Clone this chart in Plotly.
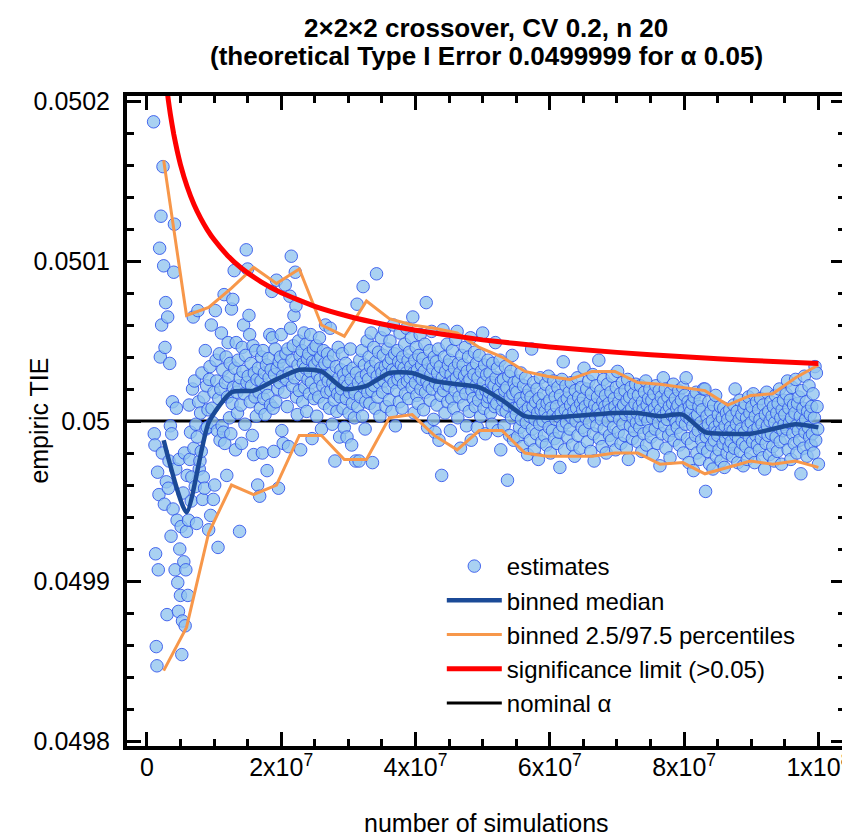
import numpy as np
import plotly.graph_objects as go

# ---------------- data ----------------
ALPHA = 0.05

# number of simulations of the estimates (1e6 ... 1e8, step 1e5)
n_sims = np.arange(1_000_000, 100_000_001, 100_000)

# empiric TIE of each estimate, given as (TIE - 0.05) in units of 1e-6
tie_offset_ppm = [
    187, -8, -15, -83, -141, -153, -32, -93, -46, 108, 40, 128, 60, -20, 159, 97, -52, 46, 74, -38,
    -121, 65, -42, -25, 36, -3, -72, -8, 12, -55, 93, 123, -93, -30, 8, -62, -101, -119, -24, -80,
    -109, -66, -146, -125, -45, -88, -20, -128, -93, -69, -34, -109, -62, 10, -24, -7, -50, -35, 20, 65,
    -17, 25, -41, -2, -64, -10, 69, 12, -30, -25, 5, -19, 30, -49, -35, 15, -42, 44, -5, 22,
    -4, 7, -68, 26, 34, -59, 60, 8, -1, -49, 18, -40, 69, 38, 25, -6, -79, 14, 42, -12,
    20, 55, -3, 32, -7, 79, -14, 24, 40, -34, 15, 49, 28, 2, 36, -8, 70, 11, 76, 21,
    94, 33, -18, 49, 18, 5, 38, 22, -69, 27, 10, -14, 46, 31, 60, 17, -2, 41, 107, 24,
    95, 28, 66, 54, 12, 36, 22, -9, 47, -21, 30, 15, 44, 3, 26, -40, 33, 18, -47, 8,
    25, 40, -20, 44, 14, 30, 4, 21, 35, -31, 16, 39, 27, 54, 10, 32, 81, 52, 8, -19,
    29, 45, 12, 88, 33, 20, -42, 37, 24, 40, 54, -6, 28, -14, 35, 18, 85, 42, 26, 9,
    45, -16, 30, 78, 58, 103, 38, 22, 47, 66, 27, 93, 72, 15, 4, 35, 50, 19, 41, -18,
    29, 44, 12, 36, 55, 21, 33, 48, 6, 39, 26, 42, 17, 31, 54, 24, -11, 37, 45, 14,
    35, 20, 47, 3, 29, 38, 15, 52, 26, 40, -5, 33, 22, 44, 11, 36, 60, 28, 18, 42,
    25, 37, 8, 58, 19, 30, -2, 24, 41, 13, -25, 21, 34, 6, 17, 46, 27, -10, 15, 32,
    20, 42, 8, 29, -4, 25, 36, 14, -10, 22, 31, 5, 18, 45, 26, -15, 11, 33, 20, 2,
    17, -25, 30, 73, 9, 24, -25, 38, 15, 27, 44, 3, 84, 21, 35, -5, 12, 29, 50, 18,
    26, 40, 11, 34, 55, 19, -26, 31, 46, 22, 8, 37, 92, 28, 15, 43, 24, 3, 33, 52,
    30, 18, 41, 25, 57, 34, 9, 29, 45, 21, 36, 13, 50, 27, 39, 6, 32, 60, 24, 42,
    -3, 31, 19, 44, 26, 37, 12, 55, 28, 35, 8, 40, 23, 33, 48, 17, 30, 58, 25, 38,
    14, 43, 27, 34, 52, 21, 65, 30, 5, 38, 24, 46, 16, 32, 11, 41, 28, 54, 20, 35,
    26, 39, 7, 31, 48, 18, 74, 25, -4, 36, 22, 44, 13, 29, 56, 20, 33, 1, 40, -7,
    24, 37, 10, 30, 45, -12, 21, 34, 16, -34, 27, 57, 19, 40, 5, 31, 23, 48, 12, 35,
    22, 38, -6, 29, 14, 44, 25, 8, 33, 19, 51, 27, 56, 2, 36, 15, 30, -17, 23, 41,
    21, 35, 10, 28, 46, 17, -3, 31, 24, 40, 6, 26, 52, -12, 19, 33, 14, 29, 43, 9,
    22, 36, -4, 27, 13, 41, 20, 3, 31, 17, 55, 24, 8, 35, -8, 19, 29, 12, 38, 15,
    18, 30, 5, 24, -2, 36, 14, 22, 9, 49, 27, 11, 33, -6, 20, 16, 38, -18, 25, 7,
    13, 26, -3, 19, 34, 6, 21, -37, 10, 28, -9, 15, 31, 2, 41, 17, -12, 24, 8, 20,
    4, 18, -10, 25, 9, -4, 14, 30, 1, -16, 11, 22, -7, 6, 27, -1, 16, -21, 8, 19,
    3, -12, 15, 45, -5, 9, 24, -18, 1, 12, -8, 20, 5, -24, 14, -2, 27, 7, -13, 10,
    0, 17, -9, 6, 23, -15, 11, 2, 28, -4, 13, -20, 8, 19, -6, 4, 25, -11, 15, 1,
    9, -14, 21, 3, -7, -29, 16, 5, 26, -3, 37, 12, -18, 7, 22, -1, 14, -10, 4, 18,
    -5, 10, 24, 2, -15, 13, 6, -22, 19, 0, 8, 27, -9, 15, 3, -17, 11, 21, -4, 7,
    14, 33, -6, 9, 2, 20, -13, 5, 25, -1, 12, -19, 17, 6, 29, -8, -25, 10, 3, 22,
    -3, 15, 8, 38, -11, 4, 19, 1, -16, 12, 26, -5, 9, 16, -20, 6, 23, 0, 11, -9,
    7, 18, -12, 28, 3, -4, 14, 9, -18, 21, 5, 31, -7, 12, 1, 17, -14, 8, 24, -2,
    10, -9, 19, 4, -17, 13, 26, -24, 6, 15, -3, 21, 8, -11, 2, 17, -6, 11, 23, -1,
    5, -13, 16, 9, -4, 22, 1, -19, 12, 7, -8, 18, 3, 25, -15, 10, 0, 14, -6, 20,
    6, -10, 13, 2, -21, 17, 8, -5, 22, 4, -14, 11, -1, 19, -28, 7, 15, -8, 3, 27,
    12, -3, 20, -17, 6, 1, 15, -9, 9, -23, 18, 4, -6, 11, 23, -12, 2, 14, -1, 8,
    -4, 10, 19, -15, 5, -8, 13, 0, 21, -20, 7, 16, -2, 27, 3, -11, 12, -26, 9, 1,
    6, -14, 11, -3, -31, 15, 2, -9, 18, -20, 4, -6, 9, -24, 13, -1, -12, 7, -17, 20,
    -5, 20, -44, -10, 3, -19, -2, 12, -27, -8, 6, -15, 0, -30, 10, -12, -4, 16, -22, -7,
    -9, 4, -18, -1, 9, -25, -6, 2, -14, 8, -29, -3, -11, 5, -20, 1, -8, -16, 7, -4,
    -13, 3, -22, -6, 10, -17, 20, -9, -2, 6, -26, -11, 1, 13, -19, -5, 4, -14, -28, 8,
    -7, 11, -16, 2, -24, -3, 15, -10, 5, -20, -1, 9, -13, 17, -6, -26, 3, -9, 12, -15,
    -4, 7, -18, 1, 14, -11, -2, -23, 10, -7, -30, 4, -14, 18, -3, -9, 6, -21, 0, 12,
    -8, 3, -16, 9, -25, -1, 16, -10, 5, -19, 11, -4, 20, -13, 2, -27, 7, -6, 13, -2,
    4, -11, 17, -5, 25, -18, 8, -1, 13, -24, 2, 21, -8, 10, -14, 5, 26, -3, -20, 11,
    -6, 15, -12, 3, -33, 19, -2, 8, -17, 28, -7, 1, 12, -22, 6, -4, 22, -10, 4, -15,
    9, -8, 17, -20, 2, 34, -12, 30, 9, -5, -27,
]

# binned statistics (bin positions in millions of simulations, values as TIE - 0.05 in 1e-6)
bin_x_mio = [2.5, 5.9, 9.2, 12.6, 15.9, 19.3, 22.7, 26.0, 29.4, 32.7,
             36.1, 39.5, 42.8, 46.2, 49.5, 52.9, 56.3, 59.6, 63.0, 66.3,
             69.7, 73.1, 76.4, 79.8, 83.1, 86.5, 89.9, 93.2, 96.6, 100.0]
median_ppm = [-12, -57, -1, 18, 19, 26, 32, 31, 20, 22,
              30, 30, 25, 23, 21, 13, 3, 2, 3, 4,
              5, 5, 3, 4, -7, -8, -8, -5, -2, -4]
lower_ppm = [-156, -129, -70, -40, -46, -40, -9, -9, -24, -24,
             2, 4, -9, -18, -6, -6, -20, -22, -22, -22,
             -20, -20, -27, -26, -33, -29, -25, -27, -25, -29]
upper_ppm = [163, 66, 71, 83, 96, 86, 95, 60, 53, 75,
             64, 60, 58, 55, 46, 40, 31, 28, 26, 31,
             31, 24, 23, 21, 19, 10, 16, 17, 27, 35]

# significance limit (>0.05)
sig_x_mio = [3.0, 3.2, 3.5, 4, 4.5, 5, 6, 7, 8, 9, 10, 12, 14, 17, 20,
             25, 30, 35, 40, 50, 60, 70, 80, 90, 100]
sig_limit = [0.0502070, 0.0502004, 0.0501916, 0.0501793, 0.0501690, 0.0501603,
             0.0501464, 0.0501355, 0.0501268, 0.0501195, 0.0501134, 0.0501035,
             0.0500958, 0.0500870, 0.0500802, 0.0500717, 0.0500655, 0.0500606,
             0.0500567, 0.0500507, 0.0500463, 0.0500429, 0.0500401, 0.0500378,
             0.0500359]

x_tick_vals = [0, 2e7, 4e7, 6e7, 8e7, 1e8]
x_tick_text = ["0", "2x10<sup>7</sup>", "4x10<sup>7</sup>", "6x10<sup>7</sup>",
               "8x10<sup>7</sup>", "1x10<sup>8</sup>"]
y_tick_vals = [0.0498, 0.0499, 0.05, 0.0501, 0.0502]
y_tick_text = ["0.0498", "0.0499", "0.05", "0.0501", "0.0502"]

X_RANGE = [-2.96e6, 103.96e6]
Y_RANGE = [0.04979688, 0.05020313]

# ---------------- derived arrays ----------------
tie = ALPHA + np.array(tie_offset_ppm) * 1e-6
bin_x = np.array(bin_x_mio) * 1e6
median_tie = ALPHA + np.array(median_ppm) * 1e-6
lower_tie = ALPHA + np.array(lower_ppm) * 1e-6
upper_tie = ALPHA + np.array(upper_ppm) * 1e-6
sig_x = np.array(sig_x_mio) * 1e6

FONT = "Liberation Sans, Arial, Helvetica, sans-serif"
ORANGE = "#f7974a"
MEDIAN = "#1b4a97"

fig = go.Figure()

# nominal alpha (under the points)
fig.add_trace(go.Scatter(
    x=X_RANGE, y=[ALPHA, ALPHA], mode="lines",
    line=dict(color="black", width=3), name="nominal \u03b1", legendrank=5,
))

# estimates
fig.add_trace(go.Scatter(
    x=n_sims, y=tie, mode="markers", name="estimates", legendrank=1,
    marker=dict(size=12.5, color="rgba(145,196,238,0.78)",
                line=dict(color="rgba(45,80,235,0.85)", width=1)),
))

# percentiles
fig.add_trace(go.Scatter(
    x=bin_x, y=upper_tie, mode="lines", line=dict(color=ORANGE, width=3),
    name="binned 2.5/97.5 percentiles", legendrank=3, legendgroup="pct",
))
fig.add_trace(go.Scatter(
    x=bin_x, y=lower_tie, mode="lines", line=dict(color=ORANGE, width=3),
    name="binned 2.5/97.5 percentiles", showlegend=False, legendgroup="pct",
))

# median
fig.add_trace(go.Scatter(
    x=bin_x, y=median_tie, mode="lines",
    line=dict(color=MEDIAN, width=4.5, shape="spline", smoothing=0.6),
    name="binned median", legendrank=2,
))

# significance limit
fig.add_trace(go.Scatter(
    x=sig_x, y=sig_limit, mode="lines",
    line=dict(color="#ff0000", width=5, shape="spline", smoothing=0.5),
    name="significance limit (>0.05)", legendrank=4,
))

axis_common = dict(
    showline=True, linewidth=4, linecolor="black", mirror="ticks",
    ticks="inside", ticklen=14, tickwidth=3, tickcolor="black",
    showgrid=False, zeroline=False,
    tickfont=dict(family=FONT, size=25, color="black"),
)

fig.update_xaxes(
    range=X_RANGE, tickmode="array", tickvals=x_tick_vals, ticktext=x_tick_text,
    ticklabelstandoff=-4,
    minor=dict(tickmode="linear", tick0=0, dtick=5e6, ticks="inside",
               ticklen=7, tickwidth=3, tickcolor="black", showgrid=False),
    **axis_common,
)
fig.update_yaxes(
    range=Y_RANGE, tickmode="array", tickvals=y_tick_vals, ticktext=y_tick_text,
    ticklabelstandoff=8,
    minor=dict(tickmode="linear", tick0=0.0498, dtick=0.00002, ticks="inside",
               ticklen=7, tickwidth=3, tickcolor="black", showgrid=False),
    **axis_common,
)

PLOT_TOP, PLOT_BOTTOM, PLOT_LEFT, PLOT_W, PLOT_H = 88, 738, 119, 723, 650


def py(pix):
    return (PLOT_BOTTOM - pix) / PLOT_H


def px(pix):
    return (pix - PLOT_LEFT) / PLOT_W


annotations = [
    dict(text="<b>2\u00d72\u00d72 crossover, CV 0.2, n 20</b>", x=0.5, y=py(20),
         font=dict(size=26)),
    dict(text="<b>(theoretical Type I Error 0.0499999 for \u03b1 0.05)</b>", x=0.5, y=py(48),
         font=dict(size=26)),
    dict(text="number of simulations", x=0.5, y=py(815), font=dict(size=25)),
    dict(text="empiric TIE", x=px(30), y=0.5, textangle=-90, font=dict(size=25)),
]
for a in annotations:
    a.update(xref="paper", yref="paper", showarrow=False, xanchor="center", yanchor="middle")
    a["font"].update(family=FONT, color="black")

fig.update_layout(
    width=850, height=837,
    margin=dict(l=PLOT_LEFT, r=8, t=PLOT_TOP, b=837 - PLOT_BOTTOM),
    paper_bgcolor="white", plot_bgcolor="white",
    font=dict(family=FONT, size=24, color="black"),
    showlegend=True,
    legend=dict(x=px(436), y=py(536), xanchor="left", yanchor="top",
                bgcolor="rgba(0,0,0,0)", borderwidth=0,
                font=dict(family=FONT, size=24, color="black"),
                itemwidth=55, tracegroupgap=0, traceorder="normal"),
    annotations=annotations,
)

fig.write_html("out.html")
